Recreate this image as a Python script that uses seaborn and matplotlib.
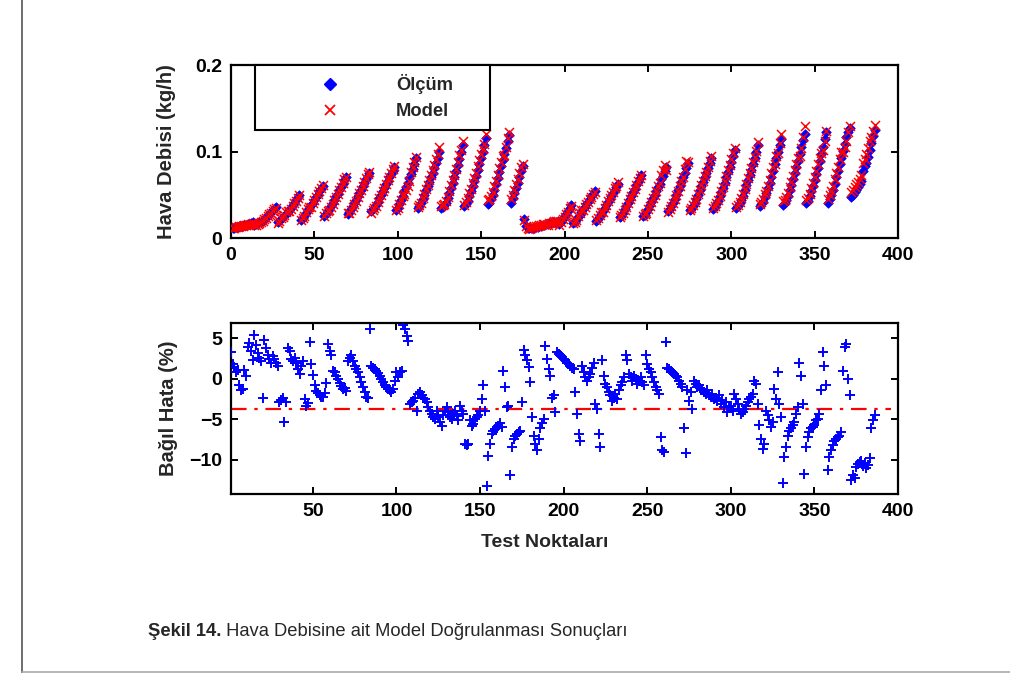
import numpy as np
import pandas as pd
import matplotlib
matplotlib.use("Agg")
import matplotlib.pyplot as plt
from matplotlib.lines import Line2D
from matplotlib.ticker import FormatStrFormatter
import seaborn as sns

# ---------------- data ----------------
olcum = [
    0.012, 0.012, 0.013, 0.013, 0.014, 0.014, 0.014, 0.015, 0.015, 0.016, 0.016, 0.017, 0.018,
    0.015, 0.016, 0.017, 0.018, 0.019, 0.020, 0.022, 0.024, 0.026, 0.028, 0.030, 0.032, 0.034, 0.036,
    0.018, 0.020, 0.022, 0.024, 0.026, 0.028, 0.030, 0.032, 0.035, 0.038, 0.041, 0.044, 0.047, 0.050,
    0.021, 0.023, 0.026, 0.029, 0.032, 0.035, 0.038, 0.041, 0.044, 0.047, 0.050, 0.054, 0.057, 0.060,
    0.025, 0.028, 0.031, 0.034, 0.037, 0.041, 0.044, 0.048, 0.051, 0.055, 0.059, 0.063, 0.067, 0.070,
    0.028, 0.030, 0.033, 0.037, 0.040, 0.044, 0.048, 0.052, 0.056, 0.060, 0.064, 0.068, 0.072, 0.075,
    0.031, 0.033, 0.035, 0.038, 0.042, 0.046, 0.050, 0.054, 0.058, 0.062, 0.066, 0.070, 0.074, 0.078, 0.082,
    0.032, 0.035, 0.039, 0.044, 0.049, 0.054, 0.059, 0.064, 0.069, 0.074, 0.080, 0.086, 0.092,
    0.035, 0.037, 0.040, 0.045, 0.050, 0.055, 0.060, 0.065, 0.070, 0.075, 0.081, 0.087, 0.093, 0.100,
    0.035, 0.036, 0.038, 0.041, 0.046, 0.052, 0.058, 0.064, 0.070, 0.077, 0.084, 0.091, 0.099, 0.108,
    0.037, 0.039, 0.043, 0.048, 0.054, 0.060, 0.066, 0.072, 0.079, 0.086, 0.093, 0.100, 0.108, 0.116,
    0.039, 0.041, 0.045, 0.050, 0.056, 0.062, 0.069, 0.076, 0.083, 0.090, 0.097, 0.104, 0.112, 0.119,
    0.040, 0.046, 0.052, 0.058, 0.064, 0.070, 0.077, 0.083,
    0.022, 0.014, 0.012, 0.011, 0.011, 0.012, 0.012, 0.013, 0.013, 0.014, 0.014, 0.015, 0.015, 0.016,
    0.016, 0.017, 0.017, 0.018, 0.019, 0.019, 0.020,
    0.016, 0.019, 0.022, 0.025, 0.028, 0.031, 0.035, 0.038,
    0.017, 0.019, 0.021, 0.024, 0.027, 0.030, 0.033, 0.036, 0.039, 0.042, 0.045, 0.048, 0.051, 0.054,
    0.020, 0.022, 0.025, 0.028, 0.031, 0.035, 0.038, 0.042, 0.045, 0.049, 0.052, 0.056, 0.059, 0.063,
    0.024, 0.026, 0.029, 0.033, 0.037, 0.041, 0.045, 0.049, 0.053, 0.057, 0.061, 0.065, 0.069, 0.073,
    0.025, 0.027, 0.030, 0.034, 0.038, 0.042, 0.046, 0.050, 0.054, 0.059, 0.063, 0.068, 0.072, 0.077, 0.082,
    0.031, 0.034, 0.037, 0.041, 0.045, 0.050, 0.055, 0.060, 0.065, 0.070, 0.075, 0.081, 0.087,
    0.032, 0.034, 0.037, 0.041, 0.045, 0.050, 0.055, 0.060, 0.065, 0.070, 0.075, 0.081, 0.087, 0.093,
    0.034, 0.036, 0.039, 0.043, 0.048, 0.053, 0.058, 0.064, 0.070, 0.076, 0.082, 0.088, 0.095, 0.102,
    0.035, 0.037, 0.040, 0.044, 0.049, 0.055, 0.061, 0.067, 0.073, 0.079, 0.086, 0.093, 0.100, 0.108,
    0.037, 0.039, 0.042, 0.047, 0.052, 0.058, 0.064, 0.071, 0.078, 0.085, 0.092, 0.099, 0.107, 0.115,
    0.038, 0.040, 0.044, 0.049, 0.055, 0.061, 0.068, 0.075, 0.082, 0.089, 0.097, 0.105, 0.113, 0.120,
    0.040, 0.043, 0.048, 0.054, 0.060, 0.067, 0.074, 0.081, 0.089, 0.097, 0.105, 0.114, 0.123,
    0.041, 0.045, 0.050, 0.056, 0.063, 0.070, 0.077, 0.085, 0.093, 0.101, 0.109, 0.117, 0.123, 0.127,
    0.047, 0.050, 0.053, 0.056, 0.059, 0.062, 0.066, 0.078, 0.083, 0.087, 0.094, 0.102, 0.110, 0.118, 0.125,
]

model = [
    0.0116, 0.0118, 0.0128, 0.0129, 0.0138, 0.0141, 0.0142, 0.0152, 0.0148, 0.0160, 0.0154, 0.0163, 0.0174,
    0.0147, 0.0151, 0.0163, 0.0174, 0.0185, 0.0196, 0.0225, 0.0228, 0.0250, 0.0272, 0.0293, 0.0314, 0.0330, 0.0351,
    0.0176, 0.0197, 0.0226, 0.0246, 0.0266, 0.0295, 0.0308, 0.0308, 0.0338, 0.0371, 0.0401, 0.0429, 0.0461, 0.0494,
    0.0209, 0.0226, 0.0254, 0.0297, 0.0331, 0.0361, 0.0363, 0.0403, 0.0438, 0.0473, 0.0508, 0.0549, 0.0581, 0.0613,
    0.0256, 0.0285, 0.0312, 0.0325, 0.0357, 0.0398, 0.0436, 0.0476, 0.0508, 0.0550, 0.0593, 0.0636, 0.0679, 0.0708,
    0.0284, 0.0293, 0.0321, 0.0359, 0.0391, 0.0433, 0.0474, 0.0516, 0.0559, 0.0602, 0.0646, 0.0691, 0.0736, 0.0768,
    0.0291, 0.0325, 0.0345, 0.0375, 0.0416, 0.0457, 0.0498, 0.0540, 0.0582, 0.0625, 0.0667, 0.0708, 0.0750, 0.0792, 0.0830,
    0.0321, 0.0347, 0.0389, 0.0437, 0.0485, 0.0504, 0.0553, 0.0606, 0.0658, 0.0763, 0.0823, 0.0883, 0.0942,
    0.0364, 0.0377, 0.0406, 0.0459, 0.0512, 0.0564, 0.0617, 0.0673, 0.0727, 0.0782, 0.0848, 0.0914, 0.0967, 0.1047,
    0.0369, 0.0381, 0.0397, 0.0426, 0.0476, 0.0541, 0.0607, 0.0671, 0.0730, 0.0800, 0.0879, 0.0956, 0.1023, 0.1122,
    0.0386, 0.0421, 0.0465, 0.0518, 0.0568, 0.0635, 0.0697, 0.0755, 0.0827, 0.0899, 0.0966, 0.1025, 0.1089, 0.1206,
    0.0442, 0.0449, 0.0486, 0.0534, 0.0596, 0.0658, 0.0731, 0.0804, 0.0876, 0.0953, 0.0960, 0.1050, 0.1159, 0.1230,
    0.0448, 0.0499, 0.0559, 0.0621, 0.0684, 0.0746, 0.0819, 0.0854,
    0.0212, 0.0136, 0.0117, 0.0108, 0.0110, 0.0126, 0.0128, 0.0140, 0.0141, 0.0150, 0.0149, 0.0158, 0.0157, 0.0153,
    0.0156, 0.0168, 0.0169, 0.0184, 0.0194, 0.0198, 0.0193,
    0.0155, 0.0184, 0.0214, 0.0244, 0.0274, 0.0304, 0.0344, 0.0374,
    0.0168, 0.0188, 0.0213, 0.0250, 0.0288, 0.0323, 0.0325, 0.0357, 0.0389, 0.0421, 0.0449, 0.0477, 0.0503, 0.0529,
    0.0206, 0.0228, 0.0267, 0.0304, 0.0303, 0.0349, 0.0382, 0.0424, 0.0457, 0.0500, 0.0534, 0.0573, 0.0601, 0.0646,
    0.0243, 0.0262, 0.0291, 0.0329, 0.0359, 0.0401, 0.0447, 0.0489, 0.0531, 0.0568, 0.0610, 0.0654, 0.0691, 0.0729,
    0.0251, 0.0272, 0.0291, 0.0334, 0.0375, 0.0417, 0.0459, 0.0502, 0.0545, 0.0598, 0.0641, 0.0729, 0.0783, 0.0839, 0.0782,
    0.0306, 0.0336, 0.0366, 0.0407, 0.0447, 0.0498, 0.0549, 0.0601, 0.0654, 0.0707, 0.0796, 0.0885, 0.0882,
    0.0329, 0.0345, 0.0384, 0.0411, 0.0453, 0.0505, 0.0554, 0.0608, 0.0658, 0.0711, 0.0764, 0.0821, 0.0887, 0.0950,
    0.0346, 0.0369, 0.0399, 0.0442, 0.0490, 0.0546, 0.0595, 0.0662, 0.0720, 0.0791, 0.0849, 0.0909, 0.0987, 0.1038,
    0.0359, 0.0381, 0.0415, 0.0459, 0.0510, 0.0570, 0.0630, 0.0689, 0.0748, 0.0807, 0.0875, 0.0932, 0.1006, 0.1113,
    0.0391, 0.0419, 0.0456, 0.0508, 0.0540, 0.0606, 0.0673, 0.0752, 0.0821, 0.0860, 0.0943, 0.0982, 0.1103, 0.1204,
    0.0429, 0.0438, 0.0477, 0.0524, 0.0585, 0.0647, 0.0719, 0.0790, 0.0855, 0.0921, 0.0951, 0.1046, 0.1165, 0.1290,
    0.0434, 0.0461, 0.0512, 0.0573, 0.0635, 0.0708, 0.0778, 0.0850, 0.0928, 0.0984, 0.1015, 0.1122, 0.1240,
    0.0456, 0.0493, 0.0544, 0.0606, 0.0678, 0.0752, 0.0825, 0.0910, 0.0991, 0.1000, 0.1048, 0.1120, 0.1230, 0.1295,
    0.0529, 0.0560, 0.0595, 0.0621, 0.0652, 0.0684, 0.0727, 0.0864, 0.0916, 0.0966, 0.1040, 0.1120, 0.1167, 0.1240, 0.1306,
]

bagil_hata = [
    3.3, 1.8, 1.5, 0.9, 1.1, -0.8, -1.4, -1.2, 1.1, 0.3, 4.0, 4.4, 3.4,
    2.3, 5.4, 4.2, 3.2, 2.6, 2.2, -2.4, 4.8, 3.8, 3.0, 2.4, 2.0, 2.8, 2.4,
    2.0, 1.6, -2.8, -2.6, -2.4, -5.3, -2.8, 3.8, 3.4, 2.4, 2.2, 2.6, 2.0, 1.2,
    0.6, 1.6, 2.2, -2.5, -3.3, -3.0, 4.5, 1.8, 0.5, -0.7, -1.5, -1.7, -2.0, -2.2,
    -2.2, -1.7, -0.5, 4.3, 3.4, 3.0, 1.0, 0.8, 0.4, 0.0, -0.5, -0.9, -1.3, -1.1,
    -1.5, 2.2, 2.6, 3.0, 2.2, 1.6, 1.2, 0.8, 0.2, -0.4, -1.0, -1.6, -2.2, -2.4,
    6.2, 1.6, 1.4, 1.2, 1.0, 0.7, 0.4, 0.0, -0.4, -0.8, -1.0, -1.2, -1.4, -1.6, -1.2,
    -0.2, 0.8, 0.2, 0.8, 1.0, 6.6, 6.2, 5.3, 4.7, -3.1, -2.9, -2.7, -2.4,
    -3.9, -1.8, -1.6, -2.0, -2.3, -2.5, -2.9, -3.5, -3.9, -4.3, -4.7, -5.0, -4.0, -4.7,
    -5.3, -5.8, -4.5, -4.0, -3.5, -4.1, -4.7, -4.9, -4.3, -3.9, -4.6, -5.1, -3.3, -3.9,
    -4.3, -8.0, -8.2, -8.0, -5.1, -5.8, -5.6, -4.9, -4.7, -4.5, -3.9, -2.5, -0.8, -4.0,
    -13.2, -9.5, -8.0, -6.8, -6.4, -6.2, -6.0, -5.8, -5.5, -5.9, 1.0, -1.0, -3.5, -3.4,
    -11.9, -8.4, -7.4, -7.0, -6.8, -6.6, -6.4, -2.9,
    3.6, 3.0, 2.3, 1.5, -0.4, -4.7, -7.0, -8.0, -8.8, -7.4, -6.1, -5.5, -4.9, 4.1,
    2.5, 1.2, 0.4, -2.3, -2.0, -4.1, 3.3,
    3.1, 2.9, 2.7, 2.5, 2.3, 2.0, 1.8, 1.6,
    1.4, 1.2, -1.6, -4.3, -6.8, -7.6, 1.6, 0.8, 0.2, -0.2, 0.2, 0.6, 1.4, 2.0,
    -3.1, -3.7, -6.8, -8.4, 2.3, 0.4, -0.6, -1.0, -1.6, -2.0, -2.7, -2.3, -1.8, -2.5,
    -1.4, -0.8, -0.4, 0.2, 2.9, 2.3, 0.6, 0.2, -0.2, 0.4, 0.0, -0.6, -0.2, 0.2,
    -0.4, -0.8, 2.9, 1.8, 1.2, 0.8, 0.2, -0.4, -1.0, -1.4, -1.8, -7.2, -8.8, -9.0, 4.6,
    1.4, 1.2, 1.0, 0.8, 0.6, 0.4, 0.2, -0.2, -0.6, -1.0, -6.1, -9.2, -1.4,
    -2.7, -1.6, -3.7, -0.2, -0.6, -1.0, -0.8, -1.4, -1.2, -1.6, -1.8, -1.4, -2.0, -2.2,
    -1.8, -2.5, -2.3, -2.7, -2.0, -3.1, -2.6, -3.5, -2.9, -4.1, -3.5, -3.3, -3.9, -1.8,
    -2.5, -3.1, -3.7, -4.3, -4.1, -3.7, -3.3, -2.9, -2.5, -2.2, -1.8, -0.2, -0.6, -3.1,
    -5.7, -7.4, -8.6, -8.0, -3.9, -4.5, -5.1, -5.9, -5.3, -1.2, -2.5, 0.8, -3.1, -4.7,
    -12.9, -9.6, -8.4, -7.0, -6.4, -6.0, -5.7, -5.3, -4.3, -3.5, 2.0, 0.4, -3.1, -11.7,
    -8.4, -7.2, -6.6, -6.1, -5.9, -5.7, -5.1, -4.9, -4.3, -1.4, 3.3, 1.6, -0.8,
    -11.3, -9.6, -8.8, -8.2, -7.6, -7.4, -7.2, -7.0, -6.6, 1.0, 3.9, 4.3, 0.0, -2.0,
    -12.5, -11.9, -12.2, -10.9, -10.5, -10.3, -10.1, -10.8, -10.4, -11.0, -10.6, -9.8, -6.1, -5.1, -4.5,
]

ortalama_hata = -3.7

ust_xticks = [0, 50, 100, 150, 200, 250, 300, 350, 400]
ust_yticks = [0, 0.1, 0.2]
alt_xticks = [50, 100, 150, 200, 250, 300, 350, 400]
alt_yticks = [-10, -5, 0, 5]
seri_adlari = ["Ölçüm", "Model"]

# ---------------- style ----------------
sns.set_style("ticks")
plt.rcParams["font.family"] = ["Liberation Sans", "DejaVu Sans"]
plt.rcParams["font.weight"] = "bold"
plt.rcParams["axes.labelweight"] = "bold"

fig = plt.figure(figsize=(10.1, 6.73), dpi=100)
W, H = 1010.0, 673.0


def ax_rect(left, top, right, bottom):
    return [left / W, 1 - bottom / H, (right - left) / W, (bottom - top) / H]


ax1 = fig.add_axes(ax_rect(231, 65, 898, 238))
ax2 = fig.add_axes(ax_rect(231, 323, 898, 494))

df_ust = pd.DataFrame({
    "nokta": np.arange(1, len(olcum) + 1),
    "olcum": olcum,
})
df_model = pd.DataFrame({
    "nokta": np.arange(1, len(model) + 1),
    "model": model,
})
df_alt = pd.DataFrame({
    "nokta": np.arange(1, len(bagil_hata) + 1),
    "hata": bagil_hata,
})

sns.scatterplot(data=df_ust, x="nokta", y="olcum", marker="D", s=24,
                color="#0000ff", edgecolor="#0000ff", linewidth=0.5,
                ax=ax1, zorder=2, legend=False)
sns.scatterplot(data=df_model, x="nokta", y="model", marker="x", s=42,
                color="#ff0000", linewidth=1.1, ax=ax1, zorder=3, legend=False)

sns.scatterplot(data=df_alt, x="nokta", y="hata", marker="+", s=62,
                color="#0000ff", linewidth=1.4, ax=ax2, zorder=3, legend=False)
ax2.axhline(ortalama_hata, color="#ff0000", lw=1.6, dashes=(7, 3.5, 1.5, 3.5),
            xmax=0.99, zorder=2)

# axes limits / ticks
ax1.set_xlim(0, 400)
ax1.set_ylim(0, 0.2)
ax1.set_xticks(ust_xticks)
ax1.set_yticks(ust_yticks)
ax1.yaxis.set_major_formatter(FormatStrFormatter("%g"))

ax2.set_xlim(1, 400)
ax2.set_ylim(-14.2, 6.9)
ax2.set_xticks(alt_xticks)
ax2.set_yticks(alt_yticks)

for ax in (ax1, ax2):
    for sp in ax.spines.values():
        sp.set_visible(True)
        sp.set_linewidth(1.6)
        sp.set_color("black")
    ax.tick_params(direction="in", length=5, width=1.4, top=True, right=True,
                   labelsize=14, pad=6.5, colors="black")
    ax.set_xlabel("")
    ax.set_ylabel("")
    ax.grid(False)

ax1.set_ylabel("Hava Debisi (kg/h)", fontsize=14.5, fontweight="bold", va="center")
ax1.yaxis.set_label_coords(-0.096, 0.5)
ax2.set_ylabel("Bağıl Hata (%)", fontsize=14.5, fontweight="bold", va="center")
ax2.yaxis.set_label_coords(-0.094, 0.5)
ax2.set_xlabel("Test Noktaları", fontsize=14, fontweight="bold")
ax2.xaxis.set_label_coords(0.47, -0.235)

# legend
handles = [
    Line2D([], [], marker="D", color="#0000ff", ls="none", ms=6.5),
    Line2D([], [], marker="x", color="#ff0000", ls="none", ms=7.5, mew=1.3),
]
leg = ax1.legend(handles, seri_adlari, loc="upper left",
                 bbox_to_anchor=(24 / 667, 0.0, 235 / 667, 1.0),
                 mode="expand", frameon=True, fancybox=False, framealpha=1,
                 edgecolor="black", borderpad=0.5, labelspacing=0.5,
                 handlelength=7.2, handletextpad=0.0, borderaxespad=0.0,
                 prop={"size": 13.2, "weight": "bold"})
leg.get_frame().set_linewidth(1.5)

# page frame lines
fig.add_artist(Line2D([21.5 / W, 21.5 / W], [0, 1], transform=fig.transFigure,
                      color="#555555", lw=1.2))
fig.add_artist(Line2D([21.5 / W, 1], [1.5 / H, 1.5 / H], transform=fig.transFigure,
                      color="#aaaaaa", lw=1.2))

# caption
t1 = fig.text(148 / W, 1 - 632 / H, "Şekil 14.", fontsize=13.2, fontweight="bold",
              va="center", ha="left")
fig.canvas.draw()
bb = t1.get_window_extent(renderer=fig.canvas.get_renderer())
fig.text(bb.x1 / fig.bbox.width, 1 - 632 / H,
         " Hava Debisine ait Model Doğrulanması Sonuçları",
         fontsize=13.2, fontweight="normal", va="center", ha="left")

fig.savefig("out.png", dpi=100)
